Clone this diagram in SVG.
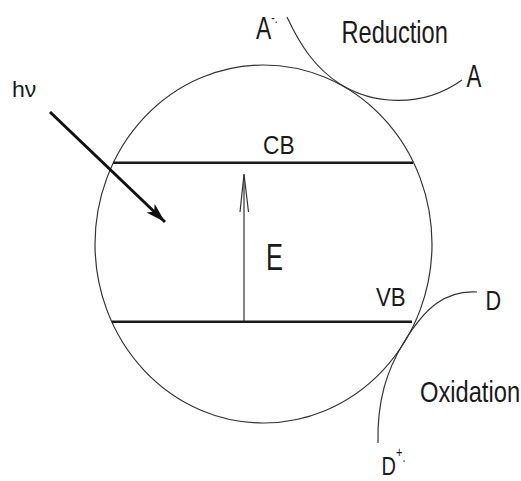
<svg xmlns="http://www.w3.org/2000/svg" width="521" height="481" viewBox="0 0 521 481">
<style>
text{font-family:"Liberation Sans",Arial,sans-serif;fill:#1a1a1a}
.thin{fill:none;stroke:#333;stroke-width:1.2}
.band{stroke:#1a1a1a;stroke-width:2.6}
</style>
<defs>
<marker id="solid" markerUnits="userSpaceOnUse" markerWidth="24" markerHeight="16" refX="20" refY="6" orient="auto">
<path d="M0,0 L20,6 L0,12 L5,6 Z" fill="#111"/>
</marker>
</defs>
<rect width="521" height="481" fill="#fff"/>
<g id="particle">
<ellipse class="thin" cx="263.5" cy="244" rx="168.5" ry="179"/>
</g>
<g id="CB">
<line class="band" x1="113" y1="162.7" x2="413" y2="162.7"/>
<text transform="translate(263,153.5) scale(0.89,1)" font-size="25.5">CB</text>
</g>
<g id="VB">
<line class="band" x1="112" y1="321.7" x2="412" y2="321.7"/>
<text transform="translate(376,306) scale(0.89,1)" font-size="25">VB</text>
</g>
<g id="E">
<text transform="translate(266,269.5) scale(0.68,1)" font-size="37.5">E</text>
</g>
<g id="hv">
<text transform="translate(12,97) scale(1.05,1)" font-size="22">hν</text>
</g>
<g id="reduction">
<text transform="translate(341.5,42.7) scale(0.75,1)" font-size="31.5">Reduction</text>
<text transform="translate(256,39.3) scale(0.74,1)" font-size="31">A<tspan font-size="14" dy="-16">-.</tspan></text>
<text transform="translate(466.5,87.3) scale(0.73,1)" font-size="30.5">A</text>
</g>
<g id="oxidation">
<text transform="translate(420,401.7) scale(0.79,1)" font-size="30">Oxidation</text>
<text transform="translate(485.5,310) scale(0.8,1)" font-size="27">D</text>
<text transform="translate(381.5,475) scale(0.8,1)" font-size="25">D<tspan font-size="14" dy="-18">+</tspan><tspan font-size="14" dy="5">.</tspan></text>
</g>
<g id="connectors">
<line x1="50" y1="112" x2="165" y2="222" stroke="#111" stroke-width="3" marker-end="url(#solid)"/>
<line x1="244" y1="321" x2="244" y2="175" stroke="#333" stroke-width="1.2"/>
<path d="M240,212 L244,174 L248.5,212" fill="none" stroke="#333" stroke-width="1.2"/>
<path class="thin" d="M287,17 C300,45 315,68 340,84 C370,103 420,110 462,80"/>
<path class="thin" d="M477,292 C445,290 425,308 404,342 C387,370 377,400 378,443"/>
</g>
</svg>
